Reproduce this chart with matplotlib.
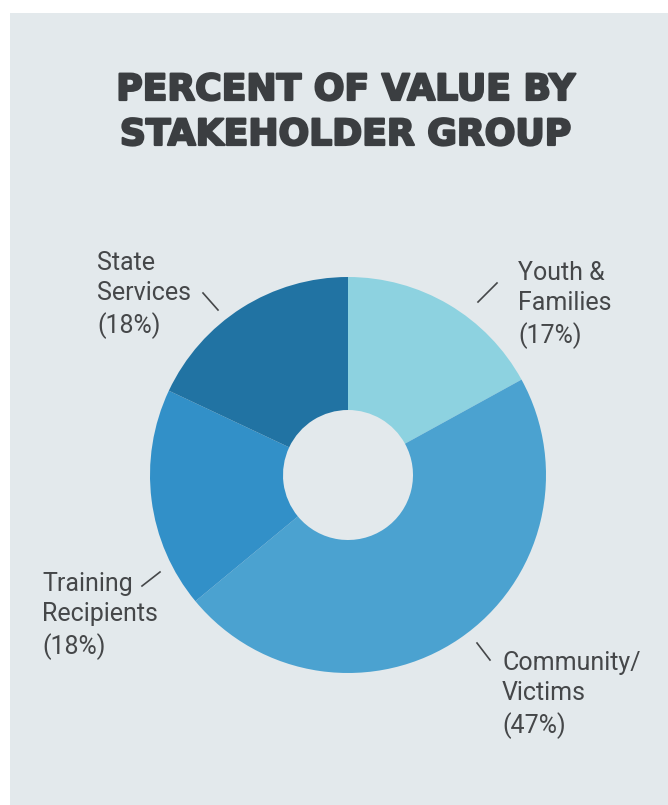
import matplotlib
matplotlib.use("Agg")
import matplotlib.pyplot as plt
from matplotlib.patches import Rectangle
import matplotlib.patheffects as pe

categories = ["Youth &\nFamilies", "Community/\nVictims", "Training\nRecipients", "State\nServices"]
values = [17, 47, 18, 18]
colors = ["#8dd2e0", "#4ba2d0", "#3290c8", "#2173a3"]

W, H = 668, 805
fig = plt.figure(figsize=(W / 100, H / 100), dpi=100)
ax = fig.add_axes([0, 0, 1, 1])

ax.add_patch(Rectangle((10, 0), W - 10, H - 13, facecolor="#e3e9ec", edgecolor="none", zorder=0))

cx, cy = 348, H - 475
R, r_in = 198, 65
ax.pie(values, colors=colors, startangle=90, counterclock=False, center=(cx, cy), radius=R,
       wedgeprops=dict(width=R - r_in, edgecolor="none", linewidth=0), frame=True)
ax.set_xlim(0, W)
ax.set_ylim(0, H)
ax.set_aspect("equal")
ax.axis("off")

title_fx = [pe.withStroke(linewidth=1.6, foreground="#3b3e41")]
ax.text(346, H - 90, "PERCENT OF VALUE BY", ha="center", va="center", fontsize=26,
        fontweight="bold", family="DejaVu Sans", color="#3b3e41", path_effects=title_fx)
ax.text(346, H - 135, "STAKEHOLDER GROUP", ha="center", va="center", fontsize=26,
        fontweight="bold", family="DejaVu Sans", color="#3b3e41", path_effects=title_fx)

label_pos = [(518, 261), (502, 651), (42, 572), (97, 251)]
leaders = [((478, 302), (497, 283)), ((477, 643), (490, 660)),
           ((142, 586), (160, 572)), ((203, 293), (218, 310))]
for cat, v, (lx, ly), (p0, p1) in zip(categories, values, label_pos, leaders):
    ax.text(lx, H - ly, f"{cat}\n({v}%)", ha="left", va="top", fontsize=18, family="Roboto",
            color="#454749", linespacing=1.33)
    ax.plot([p0[0], p1[0]], [H - p0[1], H - p1[1]], color="#454749", lw=1.2)

fig.savefig("out.png", dpi=100)
